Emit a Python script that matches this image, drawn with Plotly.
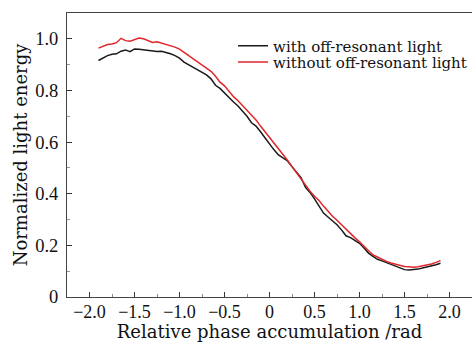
import plotly.graph_objects as go

x_vals = [round(-1.90 + 0.05 * i, 2) for i in range(77)]

with_light = [
    0.916, 0.925, 0.935, 0.940, 0.942, 0.952, 0.957, 0.950, 0.961, 0.960,
    0.958, 0.956, 0.953, 0.951, 0.952, 0.948, 0.942, 0.935, 0.925, 0.910,
    0.900, 0.891, 0.879, 0.868, 0.860, 0.845, 0.820, 0.808, 0.790, 0.770,
    0.755, 0.740, 0.722, 0.700, 0.675, 0.662, 0.640, 0.615, 0.591, 0.570,
    0.550, 0.540, 0.527, 0.505, 0.485, 0.462, 0.425, 0.405, 0.380, 0.355,
    0.325, 0.310, 0.296, 0.280, 0.260, 0.237, 0.230, 0.220, 0.208, 0.190,
    0.170, 0.157, 0.146, 0.140, 0.133, 0.127, 0.120, 0.114, 0.106, 0.105,
    0.106, 0.108, 0.112, 0.116, 0.120, 0.125, 0.131,
]

without_light = [
    0.964, 0.972, 0.978, 0.980, 0.985, 1.002, 0.993, 0.991, 0.996, 1.003,
    1.000, 0.993, 0.986, 0.989, 0.984, 0.977, 0.973, 0.968, 0.960, 0.948,
    0.935, 0.922, 0.913, 0.900, 0.888, 0.874, 0.855, 0.832, 0.818, 0.795,
    0.776, 0.760, 0.741, 0.725, 0.707, 0.686, 0.662, 0.640, 0.617, 0.597,
    0.576, 0.555, 0.530, 0.505, 0.480, 0.457, 0.432, 0.410, 0.390, 0.374,
    0.352, 0.332, 0.313, 0.297, 0.280, 0.260, 0.244, 0.229, 0.214, 0.197,
    0.178, 0.163, 0.155, 0.145, 0.138, 0.132, 0.127, 0.122, 0.118, 0.117,
    0.115, 0.117, 0.120, 0.124, 0.128, 0.134, 0.141,
]

x_ticks = [-2.0, -1.5, -1.0, -0.5, 0, 0.5, 1.0, 1.5, 2.0]
x_tick_text = ["\u22122.0", "\u22121.5", "\u22121.0", "\u22120.5", "0", "0.5", "1.0", "1.5", "2.0"]
y_ticks = [0, 0.2, 0.4, 0.6, 0.8, 1.0]
y_tick_text = ["0", "0.2", "0.4", "0.6", "0.8", "1.0"]

FONT = "DejaVu Serif"
TICK_FONT = "Liberation Serif"

fig = go.Figure()
fig.add_trace(go.Scatter(x=x_vals, y=with_light, mode="lines",
                         line=dict(color="#1a1a1a", width=1.5),
                         name="with off-resonant light", legend="legend"))
fig.add_trace(go.Scatter(x=x_vals, y=without_light, mode="lines",
                         line=dict(color="#e0262b", width=1.5),
                         name="without off-resonant light", legend="legend2"))

leg_common = dict(xanchor="left", yanchor="middle", bgcolor="rgba(0,0,0,0)",
                  font=dict(size=15, family=FONT, color="#111"), itemwidth=30,
                  borderwidth=0)

fig.update_layout(
    width=472, height=342,
    margin=dict(l=67, r=0, t=13, b=45, autoexpand=False),
    paper_bgcolor="white", plot_bgcolor="white",
    font=dict(family=FONT, color="#111"),
    showlegend=True,
    legend=dict(x=0.41, y=0.884, **leg_common),
    legend2=dict(x=0.41, y=0.827, **leg_common),
    xaxis=dict(range=[-2.25, 2.25], tickvals=x_ticks, ticktext=x_tick_text,
               ticks="inside", ticklen=5, tickwidth=1, tickcolor="#333",
               showline=True, linecolor="#444", linewidth=1, mirror=True,
               showgrid=False, zeroline=False, tickangle=0, automargin=False,
               ticklabelstandoff=-2,
               tickfont=dict(size=18, family=TICK_FONT, color="#111"),
               minor=dict(tickvals=[-1.75, -1.25, -0.75, -0.25, 0.25, 0.75, 1.25, 1.75],
                          ticks="inside", ticklen=3, tickcolor="#888"),
               title=dict(text="Relative phase accumulation /rad",
                          font=dict(size=18, family=FONT, color="#111"), standoff=3)),
    yaxis=dict(range=[0, 1.1], tickvals=y_ticks, ticktext=y_tick_text,
               ticks="inside", ticklen=5, tickwidth=1, tickcolor="#333",
               showline=True, linecolor="#444", linewidth=1, mirror=False,
               showgrid=False, zeroline=False, automargin=False,
               tickfont=dict(size=18.5, family=TICK_FONT, color="#111"),
               ticklabelstandoff=4,
               minor=dict(tickvals=[0.1, 0.3, 0.5, 0.7, 0.9],
                          ticks="inside", ticklen=3, tickcolor="#999"),
               title=dict(text="Normalized light energy",
                          font=dict(size=18, family=FONT, color="#111"), standoff=2)),
)

fig.write_html("out.html", config={"displayModeBar": False},
               post_script="document.body.style.margin='0';")
